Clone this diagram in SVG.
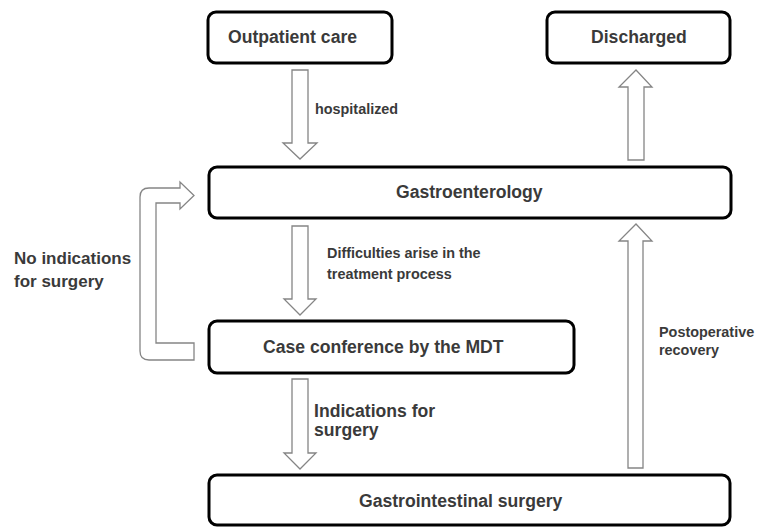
<svg xmlns="http://www.w3.org/2000/svg" width="757" height="527" viewBox="0 0 757 527">
<style>
.box{fill:#fff;stroke:#000;stroke-width:3}
.arr{fill:#fff;stroke:#858585;stroke-width:1.3;stroke-linejoin:miter}
.t{font-family:"Liberation Sans",Arial,sans-serif;font-weight:bold;fill:#3a3a3a}
.big{font-size:17.6px}
.sm{font-size:14.4px}
</style>
<rect width="757" height="527" fill="#fff"/>
<g id="connectors">
<path class="arr" d="M292,70 H308 V143 H317 L300,159 L283,143 H292 Z"/>
<path class="arr" d="M292,226 H308 V299 H316 L300,315 L284,299 H292 Z"/>
<path class="arr" d="M292,379 H308 V453 H316 L300,469 L284,453 H292 Z"/>
<path class="arr" d="M628,160 H644 V87 H652 L636,70 L619,87 H628 Z"/>
<path class="arr" d="M628,468 H643 V241 H652 L636,224 L619,241 H628 Z"/>
<path class="arr" d="M194,360 H149 Q140,360 140,351 V197 Q140,188 149,188 H180 V182 L194,195.5 L180,209 V203 H156 V343 H194 Z"/>
</g>
<g id="outpatient">
<rect class="box" x="208" y="12" width="184" height="51" rx="8"/>
<text class="t big" x="228" y="43">Outpatient care</text>
</g>
<g id="discharged">
<rect class="box" x="547" y="12" width="183" height="51" rx="8"/>
<text class="t big" x="591" y="43">Discharged</text>
</g>
<g id="gastroenterology">
<rect class="box" x="209" y="167" width="522" height="51" rx="8"/>
<text class="t big" x="396" y="198">Gastroenterology</text>
</g>
<g id="mdt">
<rect class="box" x="209" y="321" width="365" height="52" rx="8"/>
<text class="t big" x="263" y="353">Case conference by the MDT</text>
</g>
<g id="surgery">
<rect class="box" x="209" y="475" width="521" height="50" rx="8"/>
<text class="t big" x="359" y="507">Gastrointestinal surgery</text>
</g>
<g id="labels">
<text class="t sm" x="315" y="114">hospitalized</text>
<text class="t sm" x="327" y="258">Difficulties arise in the</text>
<text class="t sm" x="327" y="279">treatment process</text>
<text class="t" style="font-size:17px" x="14" y="264">No indications</text>
<text class="t" style="font-size:17px" x="14" y="287">for surgery</text>
<text class="t big" x="314" y="417">Indications for</text>
<text class="t big" x="314" y="436">surgery</text>
<text class="t sm" x="659" y="337">Postoperative</text>
<text class="t sm" x="659" y="355">recovery</text>
</g>
</svg>
